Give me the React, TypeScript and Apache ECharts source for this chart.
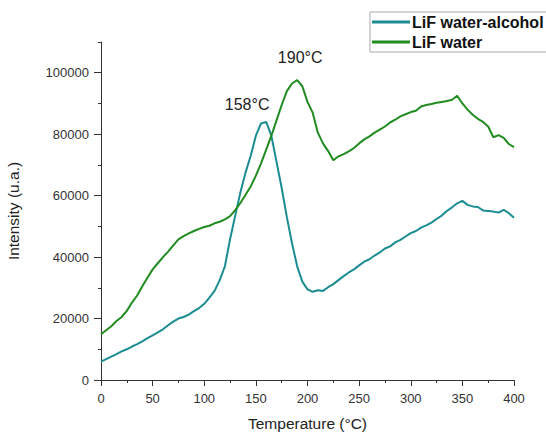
import React, { useEffect, useRef } from "react";
import * as echarts from "echarts";

// Temperature grid (°C), one reading every 5 degrees
const temperatures: number[] = Array.from({ length: 81 }, (_, i) => i * 5);

// LiF prepared in water-alcohol
const waterAlcohol: number[] = [
  6000, 6800, 7600, 8400, 9300, 10000, 10900, 11700, 12600, 13600,
  14500, 15500, 16500, 17800, 19000, 20000, 20500, 21300, 22400, 23400,
  24800, 26800, 29000, 32500, 37000, 45800, 53500, 61000, 67500, 73000,
  79500, 83500, 84000, 79500, 71000, 62500, 53000, 44500, 37000, 32000,
  29500, 28700, 29200, 29000, 30200, 31200, 32500, 33800, 35000, 36000,
  37300, 38500, 39300, 40500, 41500, 42800, 43500, 44800, 45600, 46700,
  47800, 48500, 49600, 50300, 51200, 52400, 53500, 55000, 56200, 57500,
  58300, 57000, 56500, 56300, 55200, 55000, 54800, 54500, 55400, 54300,
  52800,
];

// LiF prepared in water
const water: number[] = [
  14900, 16200, 17500, 19200, 20500, 22500, 25200, 27500, 30500, 33300,
  36000, 38000, 40000, 41800, 43800, 45800, 46800, 47700, 48500, 49200,
  49800, 50200, 51000, 51500, 52300, 53300, 55300, 57600, 60300, 63000,
  66500, 70500, 75000, 79500, 84500, 89500, 94000, 96500, 97600, 95600,
  90500, 87000, 80500, 77000, 74500, 71500, 72800, 73500, 74400, 75500,
  77000, 78300, 79300, 80500, 81500, 82500, 83800, 84700, 85800, 86500,
  87200, 87600, 89000, 89500, 89800, 90200, 90500, 90800, 91200, 92500,
  90000, 88000, 86300, 85000, 84000, 82500, 79000, 79700, 78800, 76800,
  75800,
];

const seriesNames = ["LiF water-alcohol", "LiF water"];
const peakTemps = [158, 190];

const FONT = "'Liberation Sans', Arial, sans-serif";
const TEAL = "#1b8d92";
const GREEN = "#208c20";
const AXIS = "#333333";

function peakValue(values: number[]): number {
  return Math.max(...values);
}

export default function App() {
  const ref = useRef<HTMLDivElement>(null);

  useEffect(() => {
    if (!ref.current) return;
    const chart = echarts.init(ref.current, undefined, { renderer: "svg" });
    const pair = (vals: number[]) => temperatures.map((t, i) => [t, vals[i]]);

    const hiddenLabel = { show: false };

    chart.setOption({
      animation: false,
      backgroundColor: "#ffffff",
      textStyle: { fontFamily: FONT },
      grid: {
        left: 101,
        right: 32,
        top: 42,
        bottom: 52,
        containLabel: false,
        outerBoundsMode: "none",
      },
      legend: {
        orient: "vertical",
        left: 370,
        top: 12,
        data: seriesNames,
        icon: "rect",
        itemWidth: 38,
        itemHeight: 3,
        itemGap: 2,
        padding: [1, 6, 1, 2],
        borderColor: "#a8a8a8",
        borderWidth: 1,
        textStyle: {
          fontFamily: FONT,
          fontSize: 16,
          fontWeight: "bold",
          lineHeight: 18,
          color: "#111",
          padding: [0, 0, 0, -3],
        },
      },
      xAxis: [
        {
          type: "value",
          min: 0,
          max: 400,
          interval: 50,
          name: "Temperature (°C)",
          nameLocation: "middle",
          nameGap: 35,
          nameTextStyle: { fontFamily: FONT, fontSize: 15.5, color: "#222" },
          axisLine: { show: true, lineStyle: { color: AXIS, width: 1 } },
          axisTick: { show: true, inside: false, length: 6, lineStyle: { color: AXIS } },
          axisLabel: {
            fontFamily: FONT,
            fontSize: 13,
            color: "#333",
            margin: 12,
            formatter: (v: number) => String(v),
          },
          splitLine: { show: false },
        },
        {
          // minor ticks every 25 °C
          type: "value",
          position: "bottom",
          offset: 0,
          min: 0,
          max: 400,
          interval: 25,
          axisLine: { show: false },
          axisTick: { show: true, inside: false, length: 3, lineStyle: { color: AXIS } },
          axisLabel: hiddenLabel,
          splitLine: { show: false },
        },
      ],
      yAxis: [
        {
          type: "value",
          min: 0,
          max: 110000,
          interval: 20000,
          name: "Intensity (u.a.)",
          nameLocation: "middle",
          nameGap: 80,
          nameTextStyle: { fontFamily: FONT, fontSize: 15.5, color: "#222" },
          axisLine: { show: true, lineStyle: { color: AXIS, width: 1 } },
          axisTick: { show: true, inside: false, length: 7, lineStyle: { color: AXIS } },
          axisLabel: {
            fontFamily: FONT,
            fontSize: 13,
            color: "#333",
            margin: 12,
            showMaxLabel: false,
            formatter: (v: number) => (v <= 100000 ? String(v) : ""),
          },
          splitLine: { show: false },
        },
        {
          // minor ticks every 10000
          type: "value",
          position: "left",
          offset: 0,
          min: 0,
          max: 110000,
          interval: 10000,
          axisLine: { show: false },
          axisTick: { show: true, inside: false, length: 3, lineStyle: { color: AXIS } },
          axisLabel: hiddenLabel,
          splitLine: { show: false },
        },
      ],
      series: [
        {
          name: seriesNames[0],
          type: "line",
          xAxisIndex: 0,
          yAxisIndex: 0,
          data: pair(waterAlcohol),
          showSymbol: false,
          symbol: "none",
          color: TEAL,
          lineStyle: { width: 2, color: TEAL },
          markPoint: {
            symbol: "circle",
            symbolSize: 0,
            label: {
              show: true,
              formatter: `${peakTemps[0]}°C`,
              fontFamily: FONT,
              fontSize: 16,
              color: "#222",
              position: "top",
              offset: [-17, -4],
            },
            data: [{ coord: [peakTemps[0], peakValue(waterAlcohol)] }],
          },
        },
        {
          name: seriesNames[1],
          type: "line",
          xAxisIndex: 0,
          yAxisIndex: 0,
          data: pair(water),
          showSymbol: false,
          symbol: "none",
          color: GREEN,
          lineStyle: { width: 2, color: GREEN },
          markPoint: {
            symbol: "circle",
            symbolSize: 0,
            label: {
              show: true,
              formatter: `${peakTemps[1]}°C`,
              fontFamily: FONT,
              fontSize: 16,
              color: "#222",
              position: "top",
              offset: [3, -10],
            },
            data: [{ coord: [peakTemps[1], peakValue(water)] }],
          },
        },
      ],
    });

    return () => chart.dispose();
  }, []);

  return <div ref={ref} style={{ width: 546, height: 432, position: "absolute", left: 0, top: 0 }} />;
}
